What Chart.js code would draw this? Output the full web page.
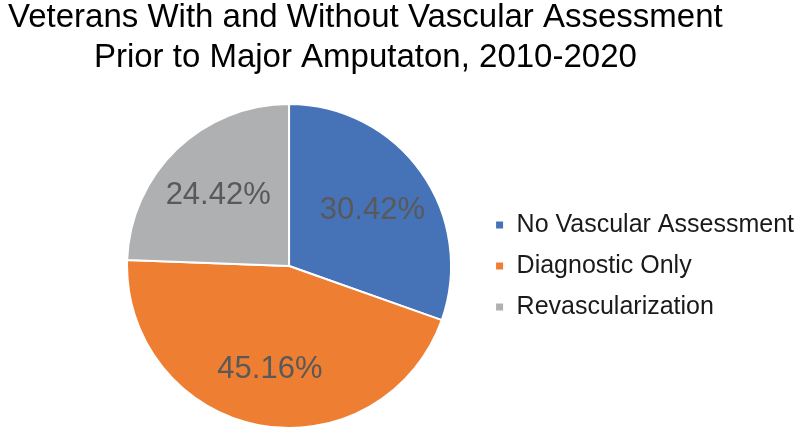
<!DOCTYPE html>
<html>
<head>
<meta charset="utf-8">
<script src="https://cdn.jsdelivr.net/npm/chart.js@4"></script>
<style>
  html, body { margin: 0; padding: 0; background: #fff; }
  #wrap { width: 796px; height: 431px; }
</style>
</head>
<body>
<div id="wrap"><canvas id="pieChart" width="796" height="431"></canvas></div>
<script>
// data
var categories = ['No Vascular Assessment', 'Diagnostic Only', 'Revascularization'];
var shares = [30.42, 45.16, 24.42];
var sliceColors = ['#4672B8', '#EE7F32', '#AFB0B2'];
var titleLines = ['Veterans With and Without Vascular Assessment', 'Prior to Major Amputaton, 2010-2020'];

var FONT = "'Liberation Sans', Arial, Helvetica, sans-serif";

// --- title, drawn by hand so it can sit off-centre like the original ---
var titlePlugin = {
  id: 'twoLineTitle',
  afterDraw: function(chart) {
    var ctx = chart.ctx;
    ctx.save();
    ctx.font = '33px ' + FONT;
    ctx.fillStyle = '#000';
    ctx.textAlign = 'center';
    ctx.textBaseline = 'alphabetic';
    var cx = chart.width * 0.459;
    titleLines.forEach(function(line, i) {
      ctx.fillText(line, cx, 27 + i * 40);
    });
    ctx.restore();
  }
};

// --- percent labels inside the slices ---
var sliceLabels = {
  id: 'sliceLabels',
  afterDatasetsDraw: function(chart) {
    var ctx = chart.ctx;
    var meta = chart.getDatasetMeta(0);
    ctx.save();
    ctx.font = '31px ' + FONT;
    ctx.fillStyle = '#595959';
    ctx.textAlign = 'center';
    ctx.textBaseline = 'middle';
    meta.data.forEach(function(arc, i) {
      var p = arc.getProps(['x', 'y', 'startAngle', 'endAngle', 'outerRadius'], true);
      var mid = (p.startAngle + p.endAngle) / 2;
      var r = p.outerRadius * 0.63;
      ctx.fillText(shares[i].toFixed(2) + '%', p.x + Math.cos(mid) * r, p.y + Math.sin(mid) * r + 3);
    });
    ctx.restore();
  }
};

var config = {
  type: 'pie',
  data: {
    labels: categories,
    datasets: [{
      data: shares,
      backgroundColor: sliceColors,
      borderColor: '#fff',
      borderWidth: 2
    }]
  },
  options: {
    responsive: false,
    maintainAspectRatio: false,
    animation: false,
    layout: {
      padding: { top: 103, bottom: 2, left: 99, right: -8 }
    },
    plugins: {
      title: { display: false },
      tooltip: { enabled: false },
      legend: {
        display: true,
        position: 'right',
        align: 'center',
        labels: {
          boxWidth: 9,
          boxHeight: 9,
          padding: 16,
          color: '#1a1a1a',
          font: { family: FONT, size: 25 }
        }
      }
    }
  },
  plugins: [titlePlugin, sliceLabels]
};

var canvas = document.getElementById('pieChart');
var pieChart = new Chart(canvas, config);
</script>
</body>
</html>
